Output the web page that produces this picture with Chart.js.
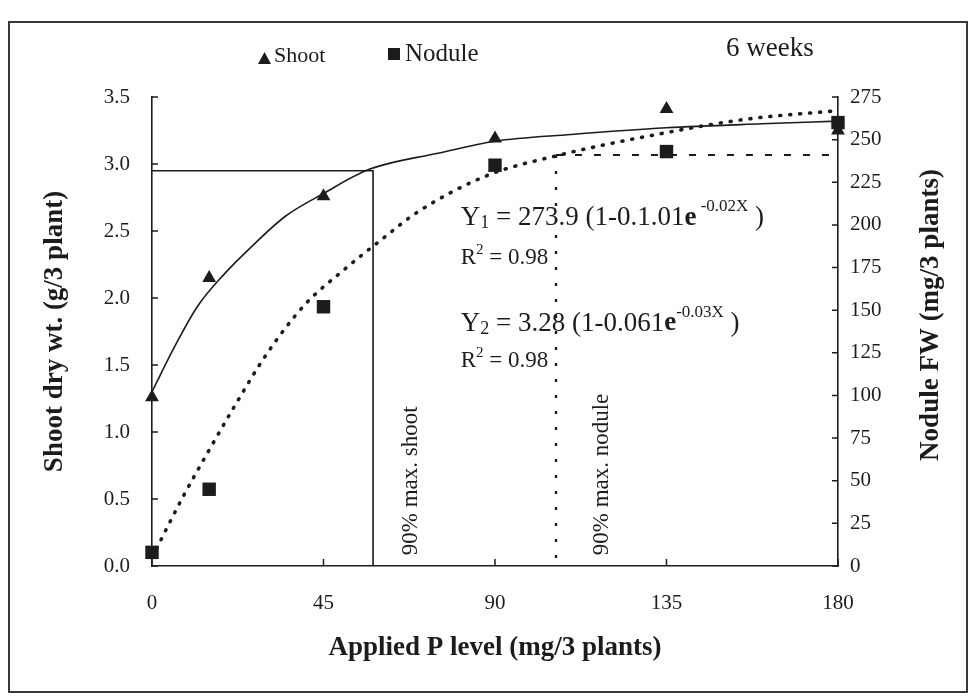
<!DOCTYPE html>
<html>
<head>
<meta charset="utf-8">
<title>Shoot and nodule response to applied P</title>
<script src="https://cdn.jsdelivr.net/npm/chart.js@4.4.1/dist/chart.umd.min.js"></script>
<style>
  html, body { margin: 0; padding: 0; background: #fff; }
  #wrap { width: 976px; height: 696px; }
</style>
</head>
<body>
<div id="wrap"><canvas id="pChart" width="976" height="696"></canvas></div>
<script>
// measured values (6 weeks)
const pLevels = [0, 15, 45, 90, 135, 180];
const shootDw = [1.26, 2.15, 2.76, 3.19, 3.41, 3.25];
const noduleFw = [8, 45, 152, 235, 243, 260];

// fitted response curves
const shootFitX = [0, 6, 12, 19, 26, 35, 45, 57, 75, 90, 110, 135, 160, 180];
const shootFitY = [1.30, 1.64, 1.94, 2.18, 2.38, 2.61, 2.78, 2.96, 3.08, 3.17, 3.22, 3.27, 3.30, 3.32];
const noduleFitX = [0, 8, 15, 22, 30, 40, 50, 60, 70, 88, 107, 130, 156, 180];
const noduleFitY = [5, 40, 68, 95, 124, 153, 173, 191, 208, 229, 241, 252, 262, 267];

// 90% of maximum markers
const shoot90 = { x: 58, y: 2.95 };
const nodule90 = { x: 106, y: 241 };

const INK = "#1c1c1c";
const SERIF = "'Liberation Serif', 'DejaVu Serif', serif";

const toPoints = (xs, ys) => xs.map((x, i) => ({ x: x, y: ys[i] }));

// inward tick marks, frame, legend and notes
const decorPlugin = {
  id: "decor",
  afterDraw(chart) {
    const { ctx, chartArea } = chart;
    const xs = chart.scales.x;
    const yl = chart.scales.y;
    const yr = chart.scales.y1;

    ctx.save();
    ctx.strokeStyle = INK;
    ctx.lineWidth = 1.5;
    ctx.beginPath();
    yl.ticks.forEach((t) => {
      const y = yl.getPixelForValue(t.value);
      ctx.moveTo(chartArea.left, y);
      ctx.lineTo(chartArea.left + 6, y);
    });
    yr.ticks.forEach((t) => {
      const y = yr.getPixelForValue(t.value);
      ctx.moveTo(chartArea.right, y);
      ctx.lineTo(chartArea.right - 6, y);
    });
    xs.ticks.forEach((t) => {
      const x = xs.getPixelForValue(t.value);
      ctx.moveTo(x, chartArea.bottom);
      ctx.lineTo(x, chartArea.bottom - 7);
    });
    ctx.stroke();

    // outer frame
    ctx.strokeStyle = "#3a3a3a";
    ctx.lineWidth = 2;
    ctx.strokeRect(9, 22, 958, 670);

    // legend
    ctx.fillStyle = INK;
    ctx.beginPath();
    ctx.moveTo(258, 64);
    ctx.lineTo(271, 64);
    ctx.lineTo(264.5, 52);
    ctx.closePath();
    ctx.fill();
    ctx.fillRect(388, 48, 12, 12);
    ctx.textBaseline = "alphabetic";
    ctx.textAlign = "left";
    ctx.font = "22px " + SERIF;
    ctx.fillText("Shoot", 274, 62);
    ctx.font = "25px " + SERIF;
    ctx.fillText("Nodule", 405, 61);
    ctx.font = "27px " + SERIF;
    ctx.fillText("6 weeks", 726, 56);

    // right axis title, reading upwards
    ctx.save();
    ctx.translate(931, 315);
    ctx.rotate(-Math.PI / 2);
    ctx.textAlign = "center";
    ctx.textBaseline = "middle";
    ctx.font = "bold 27px " + SERIF;
    ctx.fillText("Nodule FW (mg/3 plants)", 0, 0);
    ctx.restore();

    // fitted equations
    const eqX = xs.getPixelForValue(81);
    drawRuns(ctx, eqX, yl.getPixelForValue(2.6), [
      { t: "Y", s: 27 }, { t: "1", s: 18, dy: 6 },
      { t: " = 273.9 (1-0.1.01", s: 27 }, { t: "e", s: 27, b: true },
      { t: " -0.02X", s: 17, dy: -11 }, { t: " )", s: 27 },
    ]);
    drawRuns(ctx, eqX, yl.getPixelForValue(2.3), [
      { t: "R", s: 23 }, { t: "2", s: 15, dy: -8 }, { t: " = 0.98", s: 23 },
    ]);
    drawRuns(ctx, eqX, yl.getPixelForValue(1.81), [
      { t: "Y", s: 27 }, { t: "2", s: 18, dy: 6 },
      { t: " = 3.28 (1-0.061", s: 27 }, { t: "e", s: 27, b: true },
      { t: "-0.03X", s: 17, dy: -11 }, { t: " )", s: 27 },
    ]);
    drawRuns(ctx, eqX, yl.getPixelForValue(1.53), [
      { t: "R", s: 23 }, { t: "2", s: 15, dy: -8 }, { t: " = 0.98", s: 23 },
    ]);

    // vertical labels next to the 90% lines
    ctx.font = "23px " + SERIF;
    [["90% max. shoot", 68], ["90% max. nodule", 118]].forEach(([txt, xv]) => {
      ctx.save();
      ctx.translate(xs.getPixelForValue(xv), yl.getPixelForValue(0.08));
      ctx.rotate(-Math.PI / 2);
      ctx.textAlign = "left";
      ctx.textBaseline = "middle";
      ctx.fillText(txt, 0, 0);
      ctx.restore();
    });
    ctx.restore();
  },
};

function drawRuns(ctx, x, y, runs) {
  ctx.textAlign = "left";
  ctx.textBaseline = "middle";
  let cx = x;
  runs.forEach((r) => {
    ctx.font = (r.b ? "bold " : "") + r.s + "px " + SERIF;
    ctx.fillText(r.t, cx, y + (r.dy || 0));
    cx += ctx.measureText(r.t).width;
  });
}

const tickFont = { family: SERIF, size: 21 };
const titleFont = { family: SERIF, size: 27, weight: "bold" };

new Chart(document.getElementById("pChart"), {
  type: "scatter",
  data: {
    datasets: [
      {
        label: "Shoot",
        data: toPoints(pLevels, shootDw),
        yAxisID: "y",
        pointStyle: "triangle",
        pointRadius: 8,
        backgroundColor: INK,
        borderColor: INK,
        borderWidth: 0,
        clip: false,
      },
      {
        label: "Nodule",
        data: toPoints(pLevels, noduleFw),
        yAxisID: "y1",
        pointStyle: "rect",
        pointRadius: 9.5,
        backgroundColor: INK,
        borderColor: INK,
        borderWidth: 0,
        clip: false,
      },
      {
        label: "Shoot fit",
        data: toPoints(shootFitX, shootFitY),
        yAxisID: "y",
        showLine: true,
        pointRadius: 0,
        borderColor: INK,
        borderWidth: 1.6,
        cubicInterpolationMode: "monotone",
      },
      {
        label: "Nodule fit",
        data: toPoints(noduleFitX, noduleFitY),
        yAxisID: "y1",
        showLine: true,
        pointRadius: 0,
        borderColor: INK,
        borderWidth: 3.6,
        borderDash: [1, 9],
        borderCapStyle: "round",
        cubicInterpolationMode: "monotone",
        clip: false,
      },
      {
        label: "90% shoot",
        data: [{ x: 0, y: shoot90.y }, shoot90, { x: shoot90.x, y: 0 }],
        yAxisID: "y",
        showLine: true,
        pointRadius: 0,
        borderColor: INK,
        borderWidth: 1.6,
      },
      {
        label: "90% nodule level",
        data: [nodule90, { x: 180, y: nodule90.y }],
        yAxisID: "y1",
        showLine: true,
        pointRadius: 0,
        borderColor: INK,
        borderWidth: 2,
        borderDash: [7, 12],
      },
      {
        label: "90% nodule P",
        data: [nodule90, { x: nodule90.x, y: 0 }],
        yAxisID: "y1",
        showLine: true,
        pointRadius: 0,
        borderColor: INK,
        borderWidth: 2.4,
        borderDash: [3, 13],
      },
    ],
  },
  options: {
    responsive: false,
    animation: false,
    devicePixelRatio: 1,
    layout: { padding: { top: 97, left: 0, right: 0, bottom: 0 } },
    plugins: { legend: { display: false }, tooltip: { enabled: false } },
    scales: {
      x: {
        type: "linear",
        min: 0,
        max: 180,
        ticks: { stepSize: 45, color: INK, font: tickFont, padding: 25 },
        grid: { drawOnChartArea: false, drawTicks: false },
        border: { color: INK, width: 1.6 },
        title: {
          display: true,
          text: "Applied P level (mg/3 plants)",
          color: INK,
          font: titleFont,
          padding: { top: 0, bottom: 32 },
        },
        afterFit: (scale) => { scale.height = 130; },
      },
      y: {
        position: "left",
        min: 0,
        max: 3.5,
        ticks: {
          stepSize: 0.5,
          color: INK,
          font: tickFont,
          padding: 22,
          callback: (v) => v.toFixed(1),
        },
        grid: { drawOnChartArea: false, drawTicks: false },
        border: { color: INK, width: 1.6 },
        title: {
          display: true,
          text: "Shoot dry wt. (g/3 plant)",
          color: INK,
          font: titleFont,
          padding: { top: 39, bottom: 0 },
        },
        afterFit: (scale) => { scale.width = 152; },
      },
      y1: {
        position: "right",
        min: 0,
        max: 275,
        ticks: { stepSize: 25, color: INK, font: tickFont, padding: 12 },
        grid: { drawOnChartArea: false, drawTicks: false },
        border: { color: INK, width: 1.6 },
        afterFit: (scale) => { scale.width = 138; },
      },
    },
  },
  plugins: [decorPlugin],
});
</script>
</body>
</html>
